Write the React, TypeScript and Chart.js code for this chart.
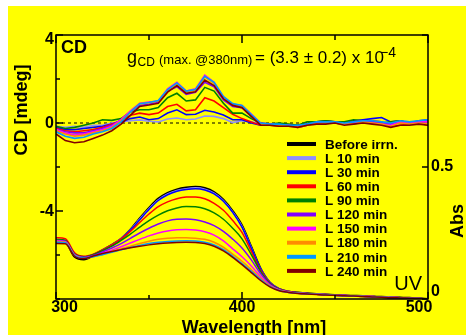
import React, { useEffect, useRef } from "react";
import { Chart, registerables } from "chart.js";

Chart.register(...registerables);

// ---------- data ----------
const wavelengths = [300, 305, 310, 315, 320, 325, 330, 335, 340, 345, 350, 355, 360, 365, 370, 375, 380, 385, 390, 395, 400, 405, 410, 415, 420, 425, 430, 435, 440, 445, 450, 455, 460, 465, 470, 475, 480, 485, 490, 495, 500];

const seriesLabels = ["Before irrn.", "L 10 min", "L 30 min", "L 60 min", "L 90 min", "L 120 min", "L 150 min", "L 180 min", "L 210 min", "L 240 min"];
const seriesColors = ["#000000", "#8f8fff", "#0000ff", "#ff0000", "#008000", "#8000ff", "#ff00ff", "#ff8c00", "#0099ff", "#800000"];

// CD [mdeg]
const baselineX = [300, 500];
const cdBefore = [0, 0];
const cd10 = [-0.15, -0.2, -0.15, -0.2, -0.1, -0.1, 0.0, 0.05, 0.1, 0.14, 0.08, 0.05, 0.18, 0.23, 0.15, 0.18, 0.32, 0.3, 0.2, 0.02, 0.1, 0.05, -0.05, -0.1, -0.05, -0.08, -0.12, -0.05, 0.0, 0.05, 0.02, -0.05, 0.05, 0.08, 0.0, 0.05, -0.05, 0.1, 0.05, 0.08, 0.12];
const cd30 = [-0.2, -0.3, -0.3, -0.25, -0.2, -0.15, -0.05, 0.05, 0.2, 0.27, 0.15, 0.2, 0.45, 0.6, 0.38, 0.4, 0.58, 0.5, 0.36, 0.15, 0.15, 0.0, -0.1, -0.05, -0.1, -0.15, -0.1, -0.05, 0.05, 0.1, 0.05, 0.0, 0.1, 0.15, 0.2, 0.25, 0.05, 0.1, 0.0, 0.1, 0.15];
const cd60 = [-0.25, -0.35, -0.4, -0.35, -0.3, -0.2, -0.05, 0.1, 0.35, 0.45, 0.38, 0.45, 0.75, 0.85, 0.55, 0.6, 1.15, 1.0, 0.7, 0.4, 0.2, 0.05, -0.1, -0.1, -0.15, -0.1, -0.2, -0.1, 0.0, 0.05, 0.0, -0.05, 0.05, 0.0, 0.1, 0.05, -0.15, -0.1, -0.05, 0.0, -0.1];
const cd90 = [-0.15, -0.25, -0.2, -0.1, 0.0, 0.15, 0.12, 0.2, 0.5, 0.6, 0.6, 0.7, 1.15, 1.35, 1.0, 1.05, 1.62, 1.45, 0.9, 0.45, 0.45, 0.2, 0.0, -0.05, 0.0, -0.05, -0.1, 0.05, 0.05, 0.1, 0.05, 0.05, 0.15, 0.1, 0.05, 0.0, 0.05, 0.1, 0.0, 0.05, 0.05];
const cd120 = [-0.3, -0.4, -0.45, -0.45, -0.35, -0.25, -0.1, 0.15, 0.5, 0.8, 0.85, 0.95, 1.45, 1.65, 1.3, 1.4, 1.85, 1.65, 1.05, 0.75, 0.7, 0.3, -0.05, -0.05, -0.1, -0.1, -0.15, -0.05, 0.0, 0.05, 0.0, -0.05, 0.05, 0.1, 0.05, 0.0, -0.05, 0.05, 0.0, 0.05, 0.1];
const cd150 = [-0.3, -0.45, -0.55, -0.5, -0.4, -0.3, -0.15, 0.15, 0.55, 0.9, 0.95, 1.0, 1.55, 1.85, 1.45, 1.55, 2.18, 1.85, 1.2, 0.85, 0.8, 0.4, 0.0, -0.05, -0.1, -0.1, -0.15, -0.1, 0.0, 0.0, 0.05, -0.05, 0.0, 0.05, 0.0, -0.05, -0.1, 0.05, 0.0, 0.05, 0.05];
const cd180 = [-0.35, -0.5, -0.6, -0.55, -0.45, -0.35, -0.2, 0.1, 0.5, 0.88, 0.92, 1.0, 1.5, 1.8, 1.42, 1.5, 2.1, 1.8, 1.15, 0.85, 0.78, 0.35, -0.05, -0.1, -0.1, -0.15, -0.2, -0.1, -0.05, 0.0, 0.0, -0.05, -0.05, 0.05, 0.0, -0.05, -0.15, 0.0, -0.05, 0.0, -0.05];
const cd210 = [-0.4, -0.6, -0.7, -0.65, -0.5, -0.4, -0.25, 0.05, 0.5, 0.88, 0.93, 1.02, 1.52, 1.82, 1.45, 1.52, 2.12, 1.85, 1.2, 0.88, 0.8, 0.38, 0.0, -0.05, -0.05, -0.1, -0.1, -0.05, 0.05, 0.05, 0.05, 0.0, 0.05, 0.1, 0.1, 0.05, 0.0, 0.1, 0.05, 0.1, 0.15];
const cd240 = [-0.5, -0.8, -0.9, -0.85, -0.7, -0.55, -0.35, -0.05, 0.35, 0.75, 0.82, 0.9, 1.4, 1.7, 1.35, 1.42, 1.95, 1.7, 1.1, 0.8, 0.7, 0.3, -0.1, -0.1, -0.15, -0.15, -0.2, -0.1, -0.05, -0.05, 0.0, -0.1, -0.05, 0.0, -0.05, -0.1, -0.2, -0.1, -0.1, -0.05, -0.1];

// UV [Abs]
const uvBefore = [0.222, 0.218, 0.16, 0.15, 0.165, 0.185, 0.205, 0.228, 0.262, 0.305, 0.345, 0.38, 0.402, 0.415, 0.422, 0.425, 0.42, 0.405, 0.376, 0.333, 0.278, 0.197, 0.115, 0.062, 0.038, 0.028, 0.024, 0.021, 0.019, 0.017, 0.015, 0.013, 0.012, 0.011, 0.009, 0.008, 0.006, 0.005, 0.004, 0.002, 0.0];
const uv10 = [0.222, 0.22, 0.168, 0.158, 0.168, 0.186, 0.205, 0.229, 0.262, 0.303, 0.342, 0.376, 0.398, 0.411, 0.418, 0.421, 0.416, 0.401, 0.373, 0.33, 0.275, 0.195, 0.114, 0.062, 0.038, 0.028, 0.024, 0.021, 0.019, 0.017, 0.015, 0.013, 0.012, 0.011, 0.009, 0.008, 0.006, 0.005, 0.004, 0.002, 0.0];
const uv30 = [0.225, 0.222, 0.17, 0.158, 0.168, 0.185, 0.204, 0.228, 0.26, 0.3, 0.339, 0.373, 0.395, 0.408, 0.415, 0.418, 0.413, 0.398, 0.37, 0.328, 0.272, 0.193, 0.114, 0.062, 0.038, 0.028, 0.024, 0.021, 0.019, 0.017, 0.015, 0.013, 0.012, 0.011, 0.009, 0.008, 0.006, 0.005, 0.004, 0.002, 0.0];
const uv60 = [0.232, 0.228, 0.175, 0.162, 0.17, 0.186, 0.205, 0.228, 0.256, 0.29, 0.322, 0.35, 0.368, 0.38, 0.386, 0.386, 0.38, 0.362, 0.336, 0.297, 0.252, 0.18, 0.108, 0.06, 0.037, 0.028, 0.024, 0.021, 0.019, 0.017, 0.015, 0.013, 0.012, 0.011, 0.009, 0.008, 0.006, 0.005, 0.004, 0.002, 0.0];
const uv90 = [0.226, 0.222, 0.17, 0.16, 0.168, 0.183, 0.2, 0.222, 0.246, 0.272, 0.297, 0.318, 0.334, 0.345, 0.35, 0.349, 0.342, 0.326, 0.302, 0.268, 0.228, 0.168, 0.104, 0.058, 0.036, 0.027, 0.023, 0.02, 0.018, 0.016, 0.014, 0.013, 0.012, 0.01, 0.009, 0.008, 0.006, 0.005, 0.004, 0.002, 0.0];
const uv120 = [0.222, 0.219, 0.168, 0.158, 0.165, 0.178, 0.193, 0.21, 0.23, 0.25, 0.268, 0.284, 0.296, 0.302, 0.303, 0.3, 0.292, 0.278, 0.256, 0.227, 0.193, 0.148, 0.096, 0.056, 0.035, 0.027, 0.023, 0.02, 0.018, 0.016, 0.014, 0.013, 0.012, 0.01, 0.009, 0.008, 0.006, 0.005, 0.004, 0.002, 0.0];
const uv150 = [0.22, 0.217, 0.166, 0.156, 0.162, 0.173, 0.185, 0.198, 0.212, 0.226, 0.239, 0.25, 0.258, 0.262, 0.263, 0.261, 0.255, 0.242, 0.22, 0.19, 0.16, 0.125, 0.085, 0.052, 0.034, 0.026, 0.022, 0.02, 0.018, 0.016, 0.014, 0.013, 0.011, 0.01, 0.009, 0.007, 0.006, 0.005, 0.003, 0.002, 0.0];
const uv180 = [0.218, 0.215, 0.165, 0.155, 0.16, 0.17, 0.18, 0.19, 0.2, 0.21, 0.219, 0.226, 0.23, 0.232, 0.232, 0.23, 0.226, 0.215, 0.196, 0.17, 0.143, 0.112, 0.078, 0.05, 0.033, 0.026, 0.022, 0.02, 0.018, 0.016, 0.014, 0.012, 0.011, 0.01, 0.009, 0.007, 0.006, 0.005, 0.003, 0.002, 0.0];
const uv210 = [0.215, 0.213, 0.164, 0.155, 0.16, 0.168, 0.177, 0.186, 0.195, 0.203, 0.21, 0.215, 0.218, 0.22, 0.221, 0.22, 0.215, 0.205, 0.187, 0.162, 0.134, 0.105, 0.074, 0.048, 0.032, 0.025, 0.022, 0.02, 0.018, 0.016, 0.014, 0.012, 0.011, 0.01, 0.008, 0.007, 0.006, 0.004, 0.003, 0.002, 0.0];
const uv240 = [0.21, 0.209, 0.162, 0.153, 0.163, 0.172, 0.18, 0.187, 0.194, 0.2, 0.205, 0.209, 0.212, 0.214, 0.215, 0.214, 0.21, 0.2, 0.182, 0.158, 0.13, 0.1, 0.07, 0.046, 0.031, 0.025, 0.021, 0.019, 0.017, 0.015, 0.014, 0.012, 0.011, 0.009, 0.008, 0.007, 0.005, 0.004, 0.003, 0.002, 0.0];

// axes
const xMin = 300;
const xMax = 500;
const cdMin = -8;
const cdMax = 4;
const absMin = 0;
const absMax = 1;
const xTickValues = [300, 350, 400, 450, 500];
const xTickLabels = ["300", "", "400", "", "500"];
const cdTickValues = [4, 2, 0, -2, -4, -6, -8];
const cdTickLabels = ["4", "", "0", "", "-4", "", ""];
const absTickValues = [0, 0.5, 1];
const absTickLabels = ["0", "0.5", ""];

const FONT = "'Liberation Sans', Arial, sans-serif";

const cdSeries = [cd10, cd30, cd60, cd90, cd120, cd150, cd180, cd210, cd240];
const uvSeries = [uvBefore, uv10, uv30, uv60, uv90, uv120, uv150, uv180, uv210, uv240];

const decorPlugin = {
  id: "decor",
  beforeDraw(chart: any) {
    const ctx = chart.ctx;
    ctx.save();
    ctx.fillStyle = "#ffff00";
    ctx.fillRect(0, 0, chart.width, chart.height);
    ctx.restore();
  },
  afterDraw(chart: any) {
    const ctx = chart.ctx;
    const { left, right, top, bottom } = chart.chartArea;
    const xs = chart.scales.x;
    const yc = chart.scales.yCD;
    const ya = chart.scales.yAbs;
    ctx.save();
    ctx.strokeStyle = "#000";
    ctx.fillStyle = "#000";
    ctx.lineWidth = 1.5;
    ctx.strokeRect(left, top, right - left, bottom - top);

    // ticks (inward)
    ctx.beginPath();
    xTickValues.forEach((v, i) => {
      const px = xs.getPixelForValue(v);
      const len = xTickLabels[i] ? 7 : 4;
      ctx.moveTo(px, bottom);
      ctx.lineTo(px, bottom - len);
      ctx.moveTo(px, top);
      ctx.lineTo(px, top + len + 1);
    });
    cdTickValues.forEach((v, i) => {
      const py = yc.getPixelForValue(v);
      const len = cdTickLabels[i] ? 7 : 4;
      ctx.moveTo(left, py);
      ctx.lineTo(left + len, py);
    });
    absTickValues.forEach((v) => {
      const py = ya.getPixelForValue(v);
      ctx.moveTo(right, py);
      ctx.lineTo(right - 6, py);
    });
    ctx.stroke();

    // tick labels
    ctx.font = `bold 16px ${FONT}`;
    ctx.textBaseline = "middle";
    ctx.textAlign = "right";
    cdTickValues.forEach((v, i) => {
      if (!cdTickLabels[i]) return;
      let py = yc.getPixelForValue(v) + 1;
      py = Math.max(top + 5, Math.min(bottom - 6, py));
      ctx.fillText(cdTickLabels[i], left - 2, py);
    });
    ctx.textAlign = "left";
    absTickValues.forEach((v, i) => {
      if (!absTickLabels[i]) return;
      let py = ya.getPixelForValue(v);
      py = Math.max(top + 5, Math.min(bottom - 7, py));
      ctx.fillText(absTickLabels[i], right + 3, py);
    });
    ctx.textAlign = "center";
    xTickValues.forEach((v, i) => {
      if (!xTickLabels[i]) return;
      let px = xs.getPixelForValue(v);
      px = Math.max(left + 8.5, Math.min(right - 9, px));
      ctx.fillText(xTickLabels[i], px, bottom + 9);
    });

    // axis titles
    ctx.font = `bold 18px ${FONT}`;
    ctx.textAlign = "center";
    ctx.textBaseline = "alphabetic";
    ctx.fillText("Wavelength [nm]", (left + right) / 2 + 12, bottom + 34);
    ctx.textBaseline = "middle";
    ctx.save();
    ctx.translate(14, 104);
    ctx.rotate(-Math.PI / 2);
    ctx.fillText("CD [mdeg]", 0, 0);
    ctx.restore();
    ctx.save();
    ctx.translate(450, 215);
    ctx.rotate(-Math.PI / 2);
    ctx.fillText("Abs", 0, 0);
    ctx.restore();

    // panel labels
    ctx.textBaseline = "alphabetic";
    ctx.textAlign = "left";
    ctx.font = `bold 18px ${FONT}`;
    ctx.fillText("CD", left + 5, top + 18);
    ctx.textAlign = "right";
    ctx.font = `20px ${FONT}`;
    ctx.fillText("UV", right - 6, bottom - 9);

    // g factor annotation
    ctx.textAlign = "left";
    ctx.font = `18px ${FONT}`;
    ctx.fillText("g", 119, 57);
    ctx.font = `12px ${FONT}`;
    ctx.fillText("CD", 129.5, 60);
    ctx.font = `13px ${FONT}`;
    ctx.fillText("(max. @380nm)", 151, 58);
    ctx.font = `17px ${FONT}`;
    ctx.fillText("= (3.3 \u00b1 0.2) x 10", 247, 57);
    ctx.font = `14px ${FONT}`;
    ctx.fillText("\u22124", 372, 51);

    // legend
    ctx.textBaseline = "middle";
    ctx.font = `bold 13.5px ${FONT}`;
    seriesLabels.forEach((lab, i) => {
      const y = 138 + 14.1 * i;
      ctx.strokeStyle = seriesColors[i];
      ctx.lineWidth = 4;
      ctx.beginPath();
      ctx.moveTo(279, y);
      ctx.lineTo(308, y);
      ctx.stroke();
      ctx.fillStyle = "#000";
      ctx.fillText(lab, 317, y + 1);
    });
    ctx.restore();
  },
};

export default function App() {
  const canvasRef = useRef<HTMLCanvasElement | null>(null);

  useEffect(() => {
    document.documentElement.style.overflow = "hidden";
    document.body.style.overflow = "hidden";
    const canvas = canvasRef.current;
    if (!canvas) return;

    const datasets: any[] = [];
    datasets.push({
      label: "CD " + seriesLabels[0],
      data: baselineX.map((x, j) => ({ x, y: cdBefore[j] })),
      yAxisID: "yCD",
      borderColor: "#000000",
      borderWidth: 1,
      borderDash: [3, 3],
      pointRadius: 0,
      order: 30,
    });
    cdSeries.forEach((arr, k) => {
      const i = k + 1;
      datasets.push({
        label: "CD " + seriesLabels[i],
        data: wavelengths.map((x, j) => ({ x, y: arr[j] })),
        yAxisID: "yCD",
        borderColor: seriesColors[i],
        borderWidth: 1.6,
        pointRadius: 0,
        tension: 0,
        order: 30 - i,
      });
    });
    uvSeries.forEach((arr, i) => {
      datasets.push({
        label: "UV " + seriesLabels[i],
        data: wavelengths.map((x, j) => ({ x, y: arr[j] })),
        yAxisID: "yAbs",
        borderColor: seriesColors[i],
        borderWidth: i === 0 ? 2.2 : 1.5,
        pointRadius: 0,
        cubicInterpolationMode: "monotone",
        order: 30 - i,
      });
    });

    const chart = new Chart(canvas, {
      type: "line",
      data: { datasets },
      options: {
        animation: false,
        responsive: false,
        devicePixelRatio: 1,
        layout: { padding: { left: 48, right: 38, top: 29, bottom: 36 } },
        plugins: { legend: { display: false }, tooltip: { enabled: false }, title: { display: false } },
        scales: {
          x: { type: "linear", min: xMin, max: xMax, display: false },
          yCD: { type: "linear", position: "left", min: cdMin, max: cdMax, display: false },
          yAbs: { type: "linear", position: "right", min: absMin, max: absMax, display: false },
        },
      },
      plugins: [decorPlugin],
    });
    return () => chart.destroy();
  }, []);

  return (
    <div style={{ position: "fixed", left: 8, top: 6, width: 458, height: 329 }}>
      <canvas ref={canvasRef} width={458} height={329} style={{ display: "block", width: 458, height: 329 }} />
    </div>
  );
}
